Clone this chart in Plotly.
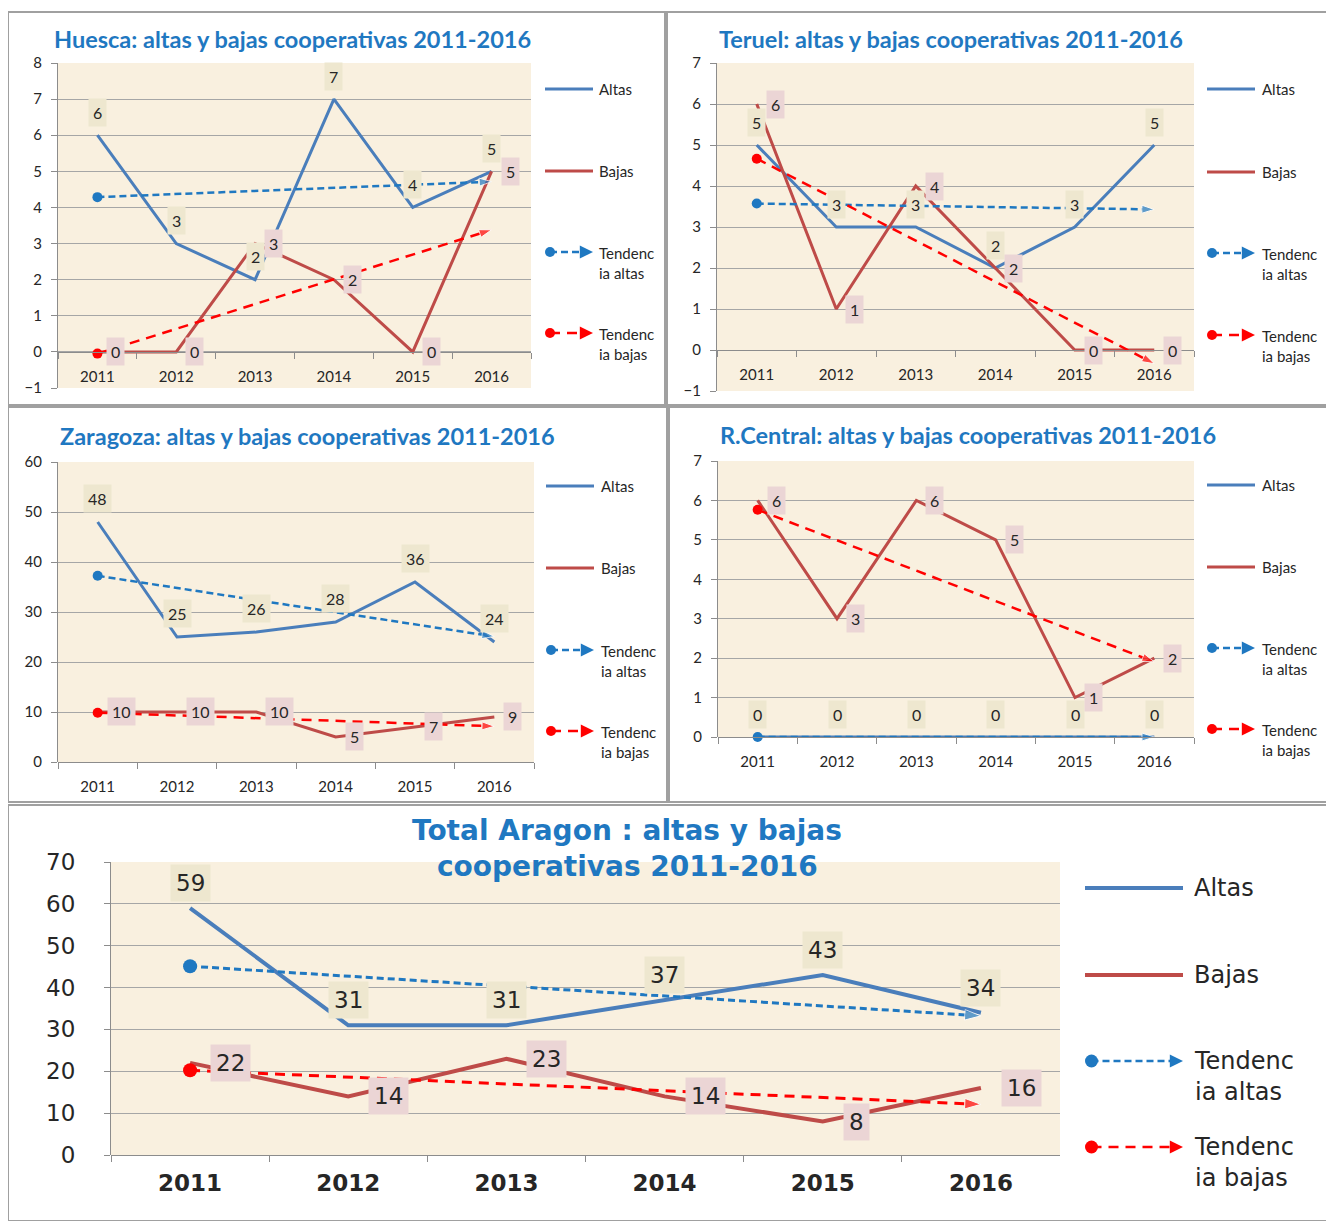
"""
Altas y bajas de cooperativas en Aragon 2011-2016 (cinco paneles)
"""

import numpy as np
import plotly.graph_objects as go

# ---- data -------------------------------------------------------------
years = ['2011', '2012', '2013', '2014', '2015', '2016']

huesca_altas = [6, 3, 2, 7, 4, 5]
huesca_bajas = [0, 0, 3, 2, 0, 5]

teruel_altas = [5, 3, 3, 2, 3, 5]
teruel_bajas = [6, 1, 4, 2, 0, 0]

zaragoza_altas = [48, 25, 26, 28, 36, 24]
zaragoza_bajas = [10, 10, 10, 5, 7, 9]

rcentral_altas = [0, 0, 0, 0, 0, 0]
rcentral_bajas = [6, 3, 6, 5, 1, 2]

total_altas = [59, 31, 31, 37, 43, 34]
total_bajas = [22, 14, 23, 14, 8, 16]

legend_labels = ['Altas', 'Bajas', 'Tendenc<br>ia altas', 'Tendenc<br>ia bajas']

# ---- styles -----------------------------------------------------------
# the page body adds an 8px margin, so the figure is drawn 8px smaller
OFF = 8
W, H = 1334 - OFF, 1221 - OFF
ALTAS = '#4A7EBB'
BAJAS = '#BE4B48'
TREND_A = '#1F78C1'
TREND_B = '#FF0000'
DASH_A = '7px,4px'
DASH_B = '10px,7px'
TITLE_COLOR = '#1F78C1'
GRID = '#A6A6A6'
AXIS = '#8C8C8C'
TEXT = '#262626'
BOX_A = '#EEE7CF'
BOX_B = '#EBD5D5'
SMALL_FONT = 'Lato, Calibri, sans-serif'
BIG_FONT = 'DejaVu Sans, Verdana, sans-serif'


def fx(px):
    """Reference-picture x pixel -> paper fraction."""
    return (px - OFF) / W


def fy(py):
    """Reference-picture y pixel -> paper fraction."""
    return 1 - (py - OFF) / H


# panel layout in reference pixels
panels = [
    dict(title=['Huesca: altas y bajas cooperativas 2011-2016'],
         altas=huesca_altas, bajas=huesca_bajas,
         box=(8, 12, 665, 405), plot=(58, 63, 531, 388),
         yrange=(-1, 8), dtick=1, title_pos=(52, [39]),
         legend=(545, 593, 597, [89, 171, 252, 333]), big=False),
    dict(title=['Teruel: altas y bajas cooperativas 2011-2016'],
         altas=teruel_altas, bajas=teruel_bajas,
         box=(667, 12, 1330, 405), plot=(717, 63, 1194, 391),
         yrange=(-1, 7), dtick=1, title_pos=(717, [39]),
         legend=(1207, 1255, 1260, [89, 172, 253, 335]), big=False),
    dict(title=['Zaragoza: altas y bajas cooperativas 2011-2016'],
         altas=zaragoza_altas, bajas=zaragoza_bajas,
         box=(8, 407, 667, 802), plot=(58, 462, 534, 762),
         yrange=(0, 60), dtick=10, title_pos=(58, [436]),
         legend=(546, 594, 599, [486, 568, 650, 731]), big=False),
    dict(title=['R.Central: altas y bajas cooperativas 2011-2016'],
         altas=rcentral_altas, bajas=rcentral_bajas,
         box=(669, 407, 1330, 802), plot=(718, 461, 1194, 737),
         yrange=(0, 7), dtick=1, title_pos=(718, [435]),
         legend=(1207, 1255, 1260, [485, 567, 648, 729]), big=False),
    dict(title=['Total Aragon : altas y bajas', 'cooperativas 2011-2016'],
         altas=total_altas, bajas=total_bajas,
         box=(8, 805, 1330, 1221), plot=(111, 862, 1060, 1155),
         yrange=(0, 70), dtick=10, title_pos=(627, [830, 866]),
         legend=(1085, 1183, 1192, [888, 975, 1061, 1147]), big=True),
]


def trend(values):
    """Linear trendline (as Excel draws it) evaluated at first and last year."""
    idx = np.arange(len(values))
    slope, intercept = np.polyfit(idx, values, 1)
    return [intercept, intercept + slope * idx[-1]]


def add_panel(fig, n, p, shapes, annotations):
    xa = 'x' if n == 1 else f'x{n}'
    ya = 'y' if n == 1 else f'y{n}'
    big = p['big']
    font = BIG_FONT if big else SMALL_FONT
    fs = 23 if big else 15
    lw = 4 if big else 3

    # panel border
    bx0, by0, bx1, by1 = p['box']
    shapes.append(dict(type='rect', xref='paper', yref='paper',
                       x0=fx(bx0), x1=fx(bx1), y0=fy(by1), y1=fy(by0),
                       line=dict(color='#A0A0A0', width=2), layer='below'))

    # title (one annotation per line)
    tx, tys = p['title_pos']
    for line, ty in zip(p['title'], tys):
        annotations.append(dict(
            text=line, xref='paper', yref='paper', x=fx(tx), y=fy(ty),
            xanchor='center' if big else 'left', yanchor='middle',
            showarrow=False,
            font=dict(family=font, size=28 if big else 23.5, color=TITLE_COLOR,
                      weight='bold')))

    # series
    fig.add_trace(go.Scatter(x=years, y=p['altas'], mode='lines', name='Altas',
                             line=dict(color=ALTAS, width=lw), xaxis=xa, yaxis=ya,
                             cliponaxis=False))
    fig.add_trace(go.Scatter(x=years, y=p['bajas'], mode='lines', name='Bajas',
                             line=dict(color=BAJAS, width=lw), xaxis=xa, yaxis=ya,
                             cliponaxis=False))

    # trendlines: dashed line ending in an arrow, dot at the start
    msize = 14 if big else 10
    asize = 17 if big else 13
    for vals, color, dash in [(p['altas'], TREND_A, DASH_A), (p['bajas'], TREND_B, DASH_B)]:
        ends = trend(vals)
        fig.add_trace(go.Scatter(
            x=[years[0], years[-1]], y=ends, mode='lines+markers',
            line=dict(color=color, width=3 if big else 2.5, dash=dash),
            marker=dict(symbol='arrow', size=[0, asize], color=color,
                        angleref='previous'),
            xaxis=xa, yaxis=ya, cliponaxis=False))
        fig.add_trace(go.Scatter(
            x=[years[0]], y=ends[:1], mode='markers',
            marker=dict(symbol='circle', size=msize, color=color),
            xaxis=xa, yaxis=ya, cliponaxis=False))

    # data labels (category index used as x position)
    lab_fs = 23 if big else 16
    for i, v in enumerate(p['altas']):
        annotations.append(dict(
            text=str(v), x=i, y=v, xref=xa, yref=ya, showarrow=False,
            yshift=25 if big else 23, bgcolor=BOX_A, borderpad=5 if big else 4,
            font=dict(family=font, size=lab_fs, color=TEXT)))
    for i, v in enumerate(p['bajas']):
        annotations.append(dict(
            text=str(v), x=i, y=v, xref=xa, yref=ya, showarrow=False,
            xanchor='left', xshift=20 if big else 9, bgcolor=BOX_B,
            borderpad=5 if big else 4,
            font=dict(family=font, size=lab_fs, color=TEXT)))

    # axes
    px0, py0, px1, py1 = p['plot']
    ymin, ymax = p['yrange']
    ydom = [fy(py1), fy(py0)]
    zero_pos = ydom[0] + (0 - ymin) / (ymax - ymin) * (ydom[1] - ydom[0])
    xaxis = dict(domain=[fx(px0), fx(px1)], type='category', range=[-0.5, 5.5],
                 anchor='free', position=zero_pos, showline=True, linecolor=AXIS,
                 linewidth=1, ticks='outside', ticklen=6, tickcolor=AXIS,
                 tickson='boundaries', showgrid=False,
                 ticklabelstandoff=7 if big else 11,
                 tickfont=dict(family=font, size=fs, color=TEXT,
                               weight='bold' if big else 'normal'))
    yaxis = dict(domain=ydom, range=[ymin, ymax], dtick=p['dtick'], anchor=xa,
                 showline=True, linecolor=AXIS, ticks='outside', ticklen=6,
                 tickcolor=AXIS, showgrid=True, gridcolor=GRID, gridwidth=1,
                 zeroline=False, ticklabelstandoff=24 if big else 6,
                 tickfont=dict(family=font, size=fs, color=TEXT))
    fig.update_layout(**{('xaxis' if n == 1 else f'xaxis{n}'): xaxis,
                         ('yaxis' if n == 1 else f'yaxis{n}'): yaxis})

    # legend (drawn by hand to match the long line samples)
    lx0, lx1, ltx, rows = p['legend']
    leg_fs = 24 if big else 15
    dot = 13 if big else 10
    styles = [(ALTAS, None), (BAJAS, None), (TREND_A, DASH_A), (TREND_B, DASH_B)]
    for label, (color, dash), ry in zip(legend_labels, styles, rows):
        if dash is None:
            shapes.append(dict(type='line', xref='paper', yref='paper',
                               x0=fx(lx0), x1=fx(lx1), y0=fy(ry), y1=fy(ry),
                               line=dict(color=color, width=lw)))
        else:
            cx = lx0 + dot / 2
            shapes.append(dict(type='line', xref='paper', yref='paper',
                               x0=fx(cx), x1=fx(lx1 - 6), y0=fy(ry), y1=fy(ry),
                               line=dict(color=color, width=2.5, dash=dash)))
            shapes.append(dict(type='circle', xref='paper', yref='paper',
                               x0=fx(cx - dot / 2), x1=fx(cx + dot / 2),
                               y0=fy(ry + dot / 2), y1=fy(ry - dot / 2),
                               fillcolor=color, line=dict(color=color, width=0)))
            annotations.append(dict(text='', xref='paper', yref='paper',
                                    x=fx(lx1), y=fy(ry), ax=-10, ay=0,
                                    showarrow=True, arrowhead=2, arrowsize=1.2,
                                    arrowwidth=2.2, arrowcolor=color))
        two_lines = '<br>' in label
        annotations.append(dict(
            text=label, xref='paper', yref='paper', x=fx(ltx),
            y=fy(ry - leg_fs * 0.68) if two_lines else fy(ry),
            xanchor='left', yanchor='top' if two_lines else 'middle',
            align='left', showarrow=False,
            font=dict(family=font, size=leg_fs, color=TEXT)))


fig = go.Figure()
shapes, annotations = [], []
for i, p in enumerate(panels, start=1):
    add_panel(fig, i, p, shapes, annotations)

fig.update_layout(
    width=W, height=H,
    margin=dict(l=0, r=0, t=0, b=0, autoexpand=False),
    paper_bgcolor='white',
    plot_bgcolor='#F9F0DF',
    showlegend=False,
    shapes=shapes,
    annotations=annotations,
)

fig.write_html("out.html")
